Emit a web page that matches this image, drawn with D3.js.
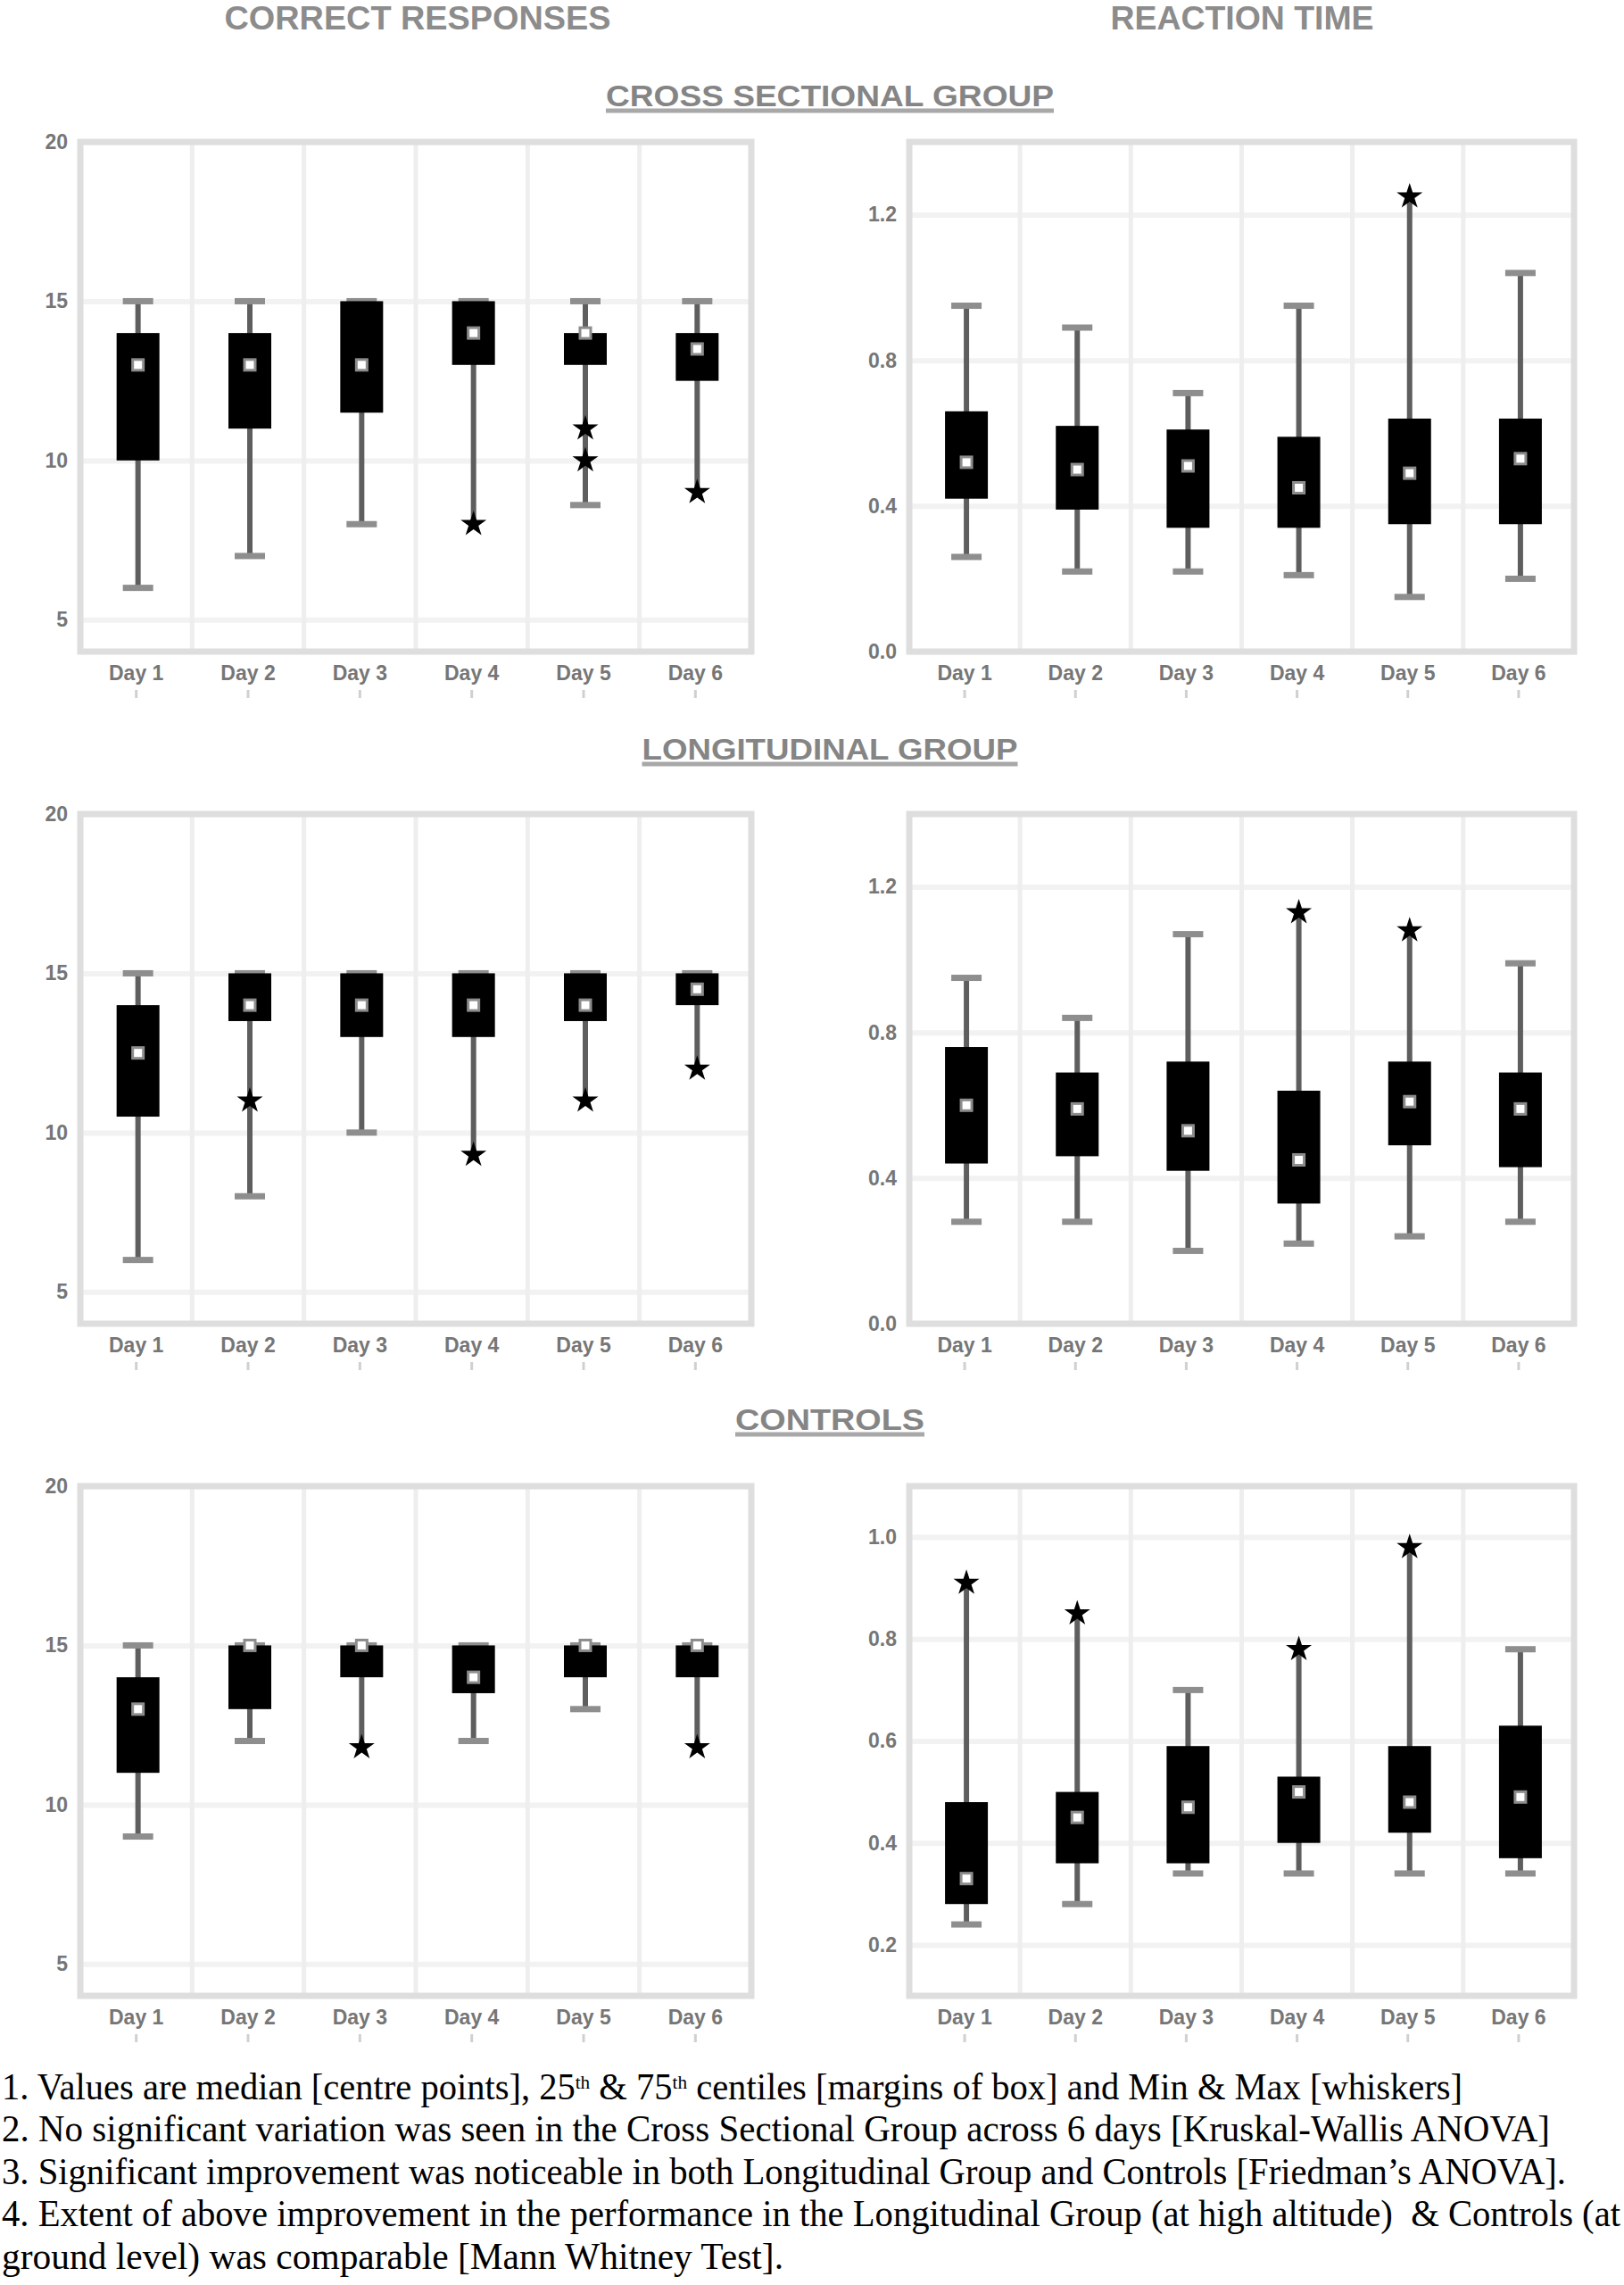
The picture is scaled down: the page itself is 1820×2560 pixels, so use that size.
<!DOCTYPE html>
<html>
<head>
<meta charset="utf-8">
<script src="https://cdn.jsdelivr.net/npm/d3@7"></script>
<style>
  body { margin: 0; background: #fff; }
  .note { white-space: pre; }
</style>
</head>
<body>
<svg id="chart" width="1820" height="2560"></svg>
<script>
'use strict';

// categories
var days = ['Day 1', 'Day 2', 'Day 3', 'Day 4', 'Day 5', 'Day 6'];

// each row: [min, 25th centile, median, 75th centile, max] for one day
var crossCorrect = [[6, 10, 13, 14, 15], [7, 11, 13, 14, 15], [8, 11.5, 13, 15, 15],
                    [8, 13, 14, 15, 15], [8.6, 13, 14, 14, 15], [9, 12.5, 13.5, 14, 15]];
var crossTime = [[0.26, 0.42, 0.52, 0.66, 0.95], [0.22, 0.39, 0.50, 0.62, 0.89], [0.22, 0.34, 0.51, 0.61, 0.71],
                 [0.21, 0.34, 0.45, 0.59, 0.95], [0.15, 0.35, 0.49, 0.64, 1.25], [0.20, 0.35, 0.53, 0.64, 1.04]];
var longCorrect = [[6, 10.5, 12.5, 14, 15], [8, 13.5, 14, 15, 15], [10, 13, 14, 15, 15],
                   [9.3, 13, 14, 15, 15], [11, 13.5, 14, 15, 15], [12, 14, 14.5, 15, 15]];
var longTime = [[0.28, 0.44, 0.60, 0.76, 0.95], [0.28, 0.46, 0.59, 0.69, 0.84], [0.20, 0.42, 0.53, 0.72, 1.07],
                [0.22, 0.33, 0.45, 0.64, 1.13], [0.24, 0.49, 0.61, 0.72, 1.08], [0.28, 0.43, 0.59, 0.69, 0.99]];
var ctrlCorrect = [[9, 11, 13, 14, 15], [12, 13, 15, 15, 15], [11.8, 14, 15, 15, 15],
                   [12, 13.5, 14, 15, 15], [13, 14, 15, 15, 15], [11.8, 14, 15, 15, 15]];
var ctrlTime = [[0.24, 0.28, 0.33, 0.48, 0.91], [0.28, 0.36, 0.45, 0.50, 0.85], [0.34, 0.36, 0.47, 0.59, 0.70],
                [0.34, 0.40, 0.50, 0.53, 0.78], [0.34, 0.42, 0.48, 0.59, 0.98], [0.34, 0.37, 0.49, 0.63, 0.78]];

// outliers: [day index, value]
var crossCorrectStars = [[3, 8], [4, 11], [4, 10], [5, 9]];
var crossTimeStars = [[4, 1.25]];
var longCorrectStars = [[1, 11], [3, 9.3], [4, 11], [5, 12]];
var longTimeStars = [[3, 1.13], [4, 1.08]];
var ctrlCorrectStars = [[2, 11.8], [5, 11.8]];
var ctrlTimeStars = [[0, 0.91], [1, 0.85], [3, 0.78], [4, 0.98]];

// tick labels
var correctTicks = [5, 10, 15, 20];
var timeTicks = [0, 0.4, 0.8, 1.2];
var ctrlTimeTicks = [0.2, 0.4, 0.6, 0.8, 1.0];

var headings = ['CORRECT RESPONSES', 'REACTION TIME'];
var groupTitles = ['CROSS SECTIONAL GROUP', 'LONGITUDINAL GROUP', 'CONTROLS'];

var notes = [
  ['1. Values are median [centre points], 25', 'th', ' & 75', 'th', ' centiles [margins of box] and Min & Max [whiskers]'],
  ['2. No significant variation was seen in the Cross Sectional Group across 6 days [Kruskal-Wallis ANOVA]'],
  ['3. Significant improvement was noticeable in both Longitudinal Group and Controls [Friedman\u2019s ANOVA].'],
  ['4. Extent of above improvement in the performance in the Longitudinal Group (at high altitude)  & Controls (at'],
  ['ground level) was comparable [Mann Whitney Test].']
];

var svg = d3.select('#chart');

// layout
var rowTops = [159, 912, 1665];
var panelHeight = 571;
var leftX = [90, 842];
var rightX = [1019, 1764];
var titleBaselines = [119, 851, 1602];
var titleLengths = [502, 421, 212];

var labelColor = '#767676';

// column headings
svg.selectAll('.heading')
  .data(headings)
  .enter()
  .append('text')
  .attr('class', 'heading')
  .attr('x', function(d, i) { return i === 0 ? 468 : 1392; })
  .attr('y', 33)
  .attr('text-anchor', 'middle')
  .attr('textLength', function(d, i) { return i === 0 ? 433 : 295; })
  .attr('lengthAdjust', 'spacingAndGlyphs')
  .style('font-family', 'Liberation Sans, Arial, sans-serif')
  .style('font-size', '36px')
  .style('font-weight', 'bold')
  .style('fill', '#8c8c8c')
  .text(function(d) { return d; });

// group titles, underlined
groupTitles.forEach(function(t, i) {
  svg.append('text')
    .attr('x', 930)
    .attr('y', titleBaselines[i])
    .attr('text-anchor', 'middle')
    .attr('textLength', titleLengths[i])
    .attr('lengthAdjust', 'spacingAndGlyphs')
    .style('font-family', 'Liberation Sans, Arial, sans-serif')
    .style('font-size', '34px')
    .style('font-weight', 'bold')
    .style('fill', '#858585')
    .text(t);

  svg.append('line')
    .attr('x1', 930 - titleLengths[i] / 2)
    .attr('x2', 930 + titleLengths[i] / 2)
    .attr('y1', titleBaselines[i] + 5)
    .attr('y2', titleBaselines[i] + 5)
    .attr('stroke', '#a8a8a8')
    .attr('stroke-width', 5);
});

drawPanel(leftX, rowTops[0], crossCorrect, crossCorrectStars, [4, 20], correctTicks, d3.format('d'));
drawPanel(rightX, rowTops[0], crossTime, crossTimeStars, [0, 1.4], timeTicks, d3.format('.1f'));
drawPanel(leftX, rowTops[1], longCorrect, longCorrectStars, [4, 20], correctTicks, d3.format('d'));
drawPanel(rightX, rowTops[1], longTime, longTimeStars, [0, 1.4], timeTicks, d3.format('.1f'));
drawPanel(leftX, rowTops[2], ctrlCorrect, ctrlCorrectStars, [4, 20], correctTicks, d3.format('d'));
drawPanel(rightX, rowTops[2], ctrlTime, ctrlTimeStars, [0.1, 1.1], ctrlTimeTicks, d3.format('.1f'));

// footnotes
var noteBaselines = [2352, 2399, 2447, 2494, 2542];
var noteLengths = [1637, 1735, 1753, 1814, 876];

notes.forEach(function(parts, i) {
  var t = svg.append('text')
    .attr('class', 'note')
    .attr('x', 2)
    .attr('y', noteBaselines[i])
    .attr('textLength', noteLengths[i])
    .attr('lengthAdjust', 'spacingAndGlyphs')
    .style('font-family', 'Liberation Serif, Times New Roman, serif')
    .style('font-size', '42px')
    .style('fill', '#000');

  parts.forEach(function(p, j) {
    var span = t.append('tspan').text(p);
    if (p === 'th') {
      span.attr('dy', -12).style('font-size', '22px');
    } else if (j > 0) {
      span.attr('dy', 12);
    }
  });
});

/**
 * Draws one box plot panel: frame, grid, axes, whiskers, boxes, medians and outliers.
 */
function drawPanel( xr, top, rows, stars, domain, ticks, fmt ) {
  var bottom = top + panelHeight;
  var w = xr[1] - xr[0];

  var x = d3.scaleBand()
    .domain( days )
    .range( xr );

  var y = d3.scaleLinear()
    .domain( domain )
    .range( [bottom, top] );

  var g = svg.append('g');

  // horizontal grid + y labels
  var yAxis = g.append('g')
    .attr('transform', 'translate(' + xr[0] + ',0)')
    .call( d3.axisLeft( y ).tickValues( ticks ).tickSize( -w ).tickPadding( 14 ).tickFormat( fmt ) );

  yAxis.select('.domain').remove();
  yAxis.selectAll('line')
    .attr('stroke', '#f2f2f2')
    .attr('stroke-width', 6);
  yAxis.selectAll('text')
    .style('font-family', 'Liberation Sans, Arial, sans-serif')
    .style('font-size', '23px')
    .style('font-weight', 'bold')
    .style('fill', labelColor);

  // vertical separators between days
  g.selectAll('.sep')
    .data( days.slice(1) )
    .enter()
    .append('line')
    .attr('x1', function(d) { return x(d); })
    .attr('x2', function(d) { return x(d); })
    .attr('y1', top)
    .attr('y2', bottom)
    .attr('stroke', '#eeeeee')
    .attr('stroke-width', 5);

  // frame
  g.append('rect')
    .attr('x', xr[0])
    .attr('y', top)
    .attr('width', w)
    .attr('height', panelHeight)
    .attr('fill', 'none')
    .attr('stroke', '#dedede')
    .attr('stroke-width', 7);

  // day labels
  var xAxis = g.append('g')
    .attr('transform', 'translate(0,' + bottom + ')')
    .call( d3.axisBottom( x ).tickSize( 0 ).tickPadding( 16 ) );

  xAxis.select('.domain').remove();
  xAxis.selectAll('text')
    .style('font-family', 'Liberation Sans, Arial, sans-serif')
    .style('font-size', '23px')
    .style('font-weight', 'bold')
    .style('fill', labelColor);

  // small ticks under the labels
  g.selectAll('.dtick')
    .data( days )
    .enter()
    .append('line')
    .attr('x1', function(d) { return x(d) + x.bandwidth() / 2; })
    .attr('x2', function(d) { return x(d) + x.bandwidth() / 2; })
    .attr('y1', bottom + 43)
    .attr('y2', bottom + 52)
    .attr('stroke', '#d0d0d0')
    .attr('stroke-width', 3);

  var boxW = 48;
  var capW = 34;
  var cx = function(i) { return x( days[i] ) + x.bandwidth() / 2 + 2; };

  function hasStar( i, v ) {
    return stars.some(function(s) { return s[0] === i && Math.abs( s[1] - v ) < 1e-9; });
  }

  // whiskers
  g.selectAll('.whisker')
    .data( rows )
    .enter()
    .append('line')
    .attr('x1', function(d, i) { return cx(i); })
    .attr('x2', function(d, i) { return cx(i); })
    .attr('y1', function(d) { return y( d[0] ); })
    .attr('y2', function(d) { return y( d[4] ); })
    .attr('stroke', '#5e5e5e')
    .attr('stroke-width', 6);

  // caps at min and max
  var caps = [];
  rows.forEach(function(d, i) {
    if ( !hasStar( i, d[0] ) ) { caps.push( [i, d[0]] ); }
    if ( !hasStar( i, d[4] ) ) { caps.push( [i, d[4]] ); }
  });

  g.selectAll('.cap')
    .data( caps )
    .enter()
    .append('rect')
    .attr('x', function(d) { return cx( d[0] ) - capW / 2; })
    .attr('y', function(d) { return y( d[1] ) - 3.5; })
    .attr('width', capW)
    .attr('height', 7)
    .attr('fill', '#8e8e8e');

  // boxes
  g.selectAll('.box')
    .data( rows )
    .enter()
    .append('rect')
    .attr('x', function(d, i) { return cx(i) - boxW / 2; })
    .attr('y', function(d) { return y( d[3] ); })
    .attr('width', boxW)
    .attr('height', function(d) { return Math.max( 2, y( d[1] ) - y( d[3] ) ); })
    .attr('fill', '#000');

  // medians
  g.selectAll('.median')
    .data( rows )
    .enter()
    .append('rect')
    .attr('x', function(d, i) { return cx(i) - 6; })
    .attr('y', function(d) { return y( d[2] ) - 6; })
    .attr('width', 12)
    .attr('height', 12)
    .attr('fill', '#fff')
    .attr('stroke', '#8c8c8c')
    .attr('stroke-width', 3);

  // outliers
  g.selectAll('.star')
    .data( stars )
    .enter()
    .append('path')
    .attr('d', d3.symbol().type( d3.symbolStar ).size( 260 ))
    .attr('transform', function(d) { return 'translate(' + cx( d[0] ) + ',' + y( d[1] ) + ')'; })
    .attr('fill', '#000');
}
</script>
</body>
</html>
